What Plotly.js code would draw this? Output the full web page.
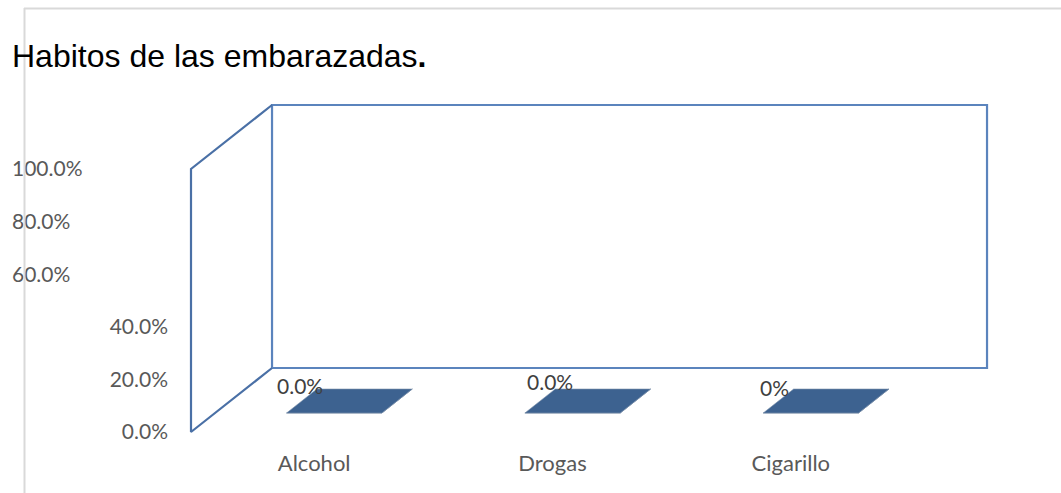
<!DOCTYPE html>
<html>
<head>
<meta charset="utf-8">
<script src="https://cdn.plot.ly/plotly-3.0.1.min.js"></script>
<style>html,body{margin:0;padding:0;background:#fff;}#chart{width:1061px;height:493px;}</style>
</head>
<body>
<div id="chart"></div>
<script>
// ---- data ----
const categories = ['Alcohol', 'Drogas', 'Cigarillo'];
const values = [0, 0, 0];
const dataLabels = ['0.0%', '0.0%', '0%'];
const yTicksLow = [0, 0.2, 0.4];
const yTicksHigh = [0.6, 0.8, 1.0];
const chartTitle = 'Habitos de las embarazadas<b>.</b>';

// ---- 3D oblique projection (axis units) ----
const W = 1061, H = 493;
const DX = 0.34, DY = 0.2433;          // depth offset for full depth
const barW = 0.40, d0 = 0.297, d1 = 0.672;
function P(x, y, d) { return [x + d * DX, y + d * DY]; }
function poly(pts) { return { x: pts.map(p => p[0]), y: pts.map(p => p[1]) }; }

const traces = [];
const wallLine = { color: '#5b84bd', width: 2.2 };
const sideLine = { color: '#4a70a6', width: 2.2 };
const n = categories.length;
const xl = -0.5, xr = n - 0.5;

// back wall
let bw = poly([P(xl,0,1), P(xr,0,1), P(xr,1,1), P(xl,1,1), P(xl,0,1)]);
traces.push({ type: 'scatter', mode: 'lines', x: bw.x, y: bw.y, line: wallLine, hoverinfo: 'skip', showlegend: false });
// side wall
let sw = poly([P(xl,0,1), P(xl,0,0), P(xl,1,0), P(xl,1,1)]);
traces.push({ type: 'scatter', mode: 'lines', x: sw.x, y: sw.y, line: sideLine, hoverinfo: 'skip', showlegend: false });

// bars
const annotations = [];
const labelShift = [[-17, 4], [-5, 8], [-19, 2]];
categories.forEach((c, i) => {
  const v = values[i];
  const a = i - barW / 2, b = i + barW / 2;
  const faces = [
    [P(a,0,d0), P(b,0,d0), P(b,v,d0), P(a,v,d0)],       // front
    [P(b,0,d0), P(b,0,d1), P(b,v,d1), P(b,v,d0)],       // side
    [P(a,v,d0), P(b,v,d0), P(b,v,d1), P(a,v,d1)]        // top
  ];
  faces.forEach(f => {
    const pp = poly(f.concat([f[0]]));
    traces.push({ type: 'scatter', mode: 'lines', x: pp.x, y: pp.y, fill: 'toself',
      fillcolor: '#3d6290', line: { color: '#7f93ad', width: 0.6 }, hoverinfo: 'skip', showlegend: false });
  });
  const tl = P(a, v, d1);
  annotations.push({ x: tl[0], y: tl[1], xref: 'x', yref: 'y', text: dataLabels[i], showarrow: false,
    xanchor: 'center', yanchor: 'middle', xshift: labelShift[i][0], yshift: labelShift[i][1],
    font: { family: 'Lato, sans-serif', size: 21, color: '#404040' } });
});

// axis anchor traces
traces.push({ type: 'scatter', mode: 'markers', x: [0, 1, 2], y: [0, 0, 0], xaxis: 'x2', yaxis: 'y',
  marker: { opacity: 0 }, hoverinfo: 'skip', showlegend: false });
traces.push({ type: 'scatter', mode: 'markers', x: [0], y: [0], xaxis: 'x', yaxis: 'y2', marker: { opacity: 0 }, hoverinfo: 'skip', showlegend: false });
traces.push({ type: 'scatter', mode: 'markers', x: [0], y: [0], xaxis: 'x', yaxis: 'y3', marker: { opacity: 0 }, hoverinfo: 'skip', showlegend: false });

const xRange = [-0.5 - 191 / 238.333, -0.5 + 870 / 238.333];
const yRange = [-61 / 263, 432 / 263];
const tickFont = { family: 'Lato, sans-serif', size: 21, color: '#595959' };
const catFont = { family: 'Lato, sans-serif', size: 22, color: '#595959' };

const layout = {
  width: W, height: H,
  margin: { l: 0, r: 0, t: 0, b: 0, pad: 0 },
  paper_bgcolor: '#fff', plot_bgcolor: '#fff',
  showlegend: false,
  title: { text: chartTitle, x: 12 / W, xanchor: 'left', xref: 'paper', y: 1 - 56 / H, yanchor: 'middle',
    font: { family: 'Liberation Sans, Arial, sans-serif', size: 32, color: '#000' } },
  xaxis: { range: xRange, visible: false, fixedrange: true, domain: [0, 1] },
  yaxis: { range: yRange, visible: false, fixedrange: true, domain: [0, 1] },
  xaxis2: { overlaying: 'x', anchor: 'free', position: 1 - 448 / H, side: 'bottom', range: xRange,
    tickvals: [0, 1, 2], ticktext: categories, showline: false, showgrid: false, zeroline: false, ticks: '',
    ticklabelshift: 4, tickfont: catFont, fixedrange: true },
  yaxis2: { overlaying: 'y', anchor: 'free', position: 168 / W, side: 'left', range: yRange,
    tickvals: yTicksLow, tickformat: '.1%', showline: false, showgrid: false, zeroline: false, ticks: '',
    tickfont: tickFont, fixedrange: true },
  yaxis3: { overlaying: 'y', anchor: 'free', position: 11 / W, side: 'right', range: yRange,
    tickvals: yTicksHigh, tickformat: '.1%', showline: false, showgrid: false, zeroline: false, ticks: '',
    tickfont: tickFont, fixedrange: true },
  shapes: [
    { type: 'line', xref: 'paper', yref: 'paper', x0: 24 / W, x1: 1, y0: 1 - 8.5 / H, y1: 1 - 8.5 / H, line: { color: '#d9d9d9', width: 2 } },
    { type: 'line', xref: 'paper', yref: 'paper', x0: 24.5 / W, x1: 24.5 / W, y0: 0, y1: 1 - 8 / H, line: { color: '#d9d9d9', width: 2 } }
  ],
  annotations: annotations
};

Plotly.newPlot('chart', traces, layout, { displayModeBar: false, staticPlot: true });
</script>
</body>
</html>
